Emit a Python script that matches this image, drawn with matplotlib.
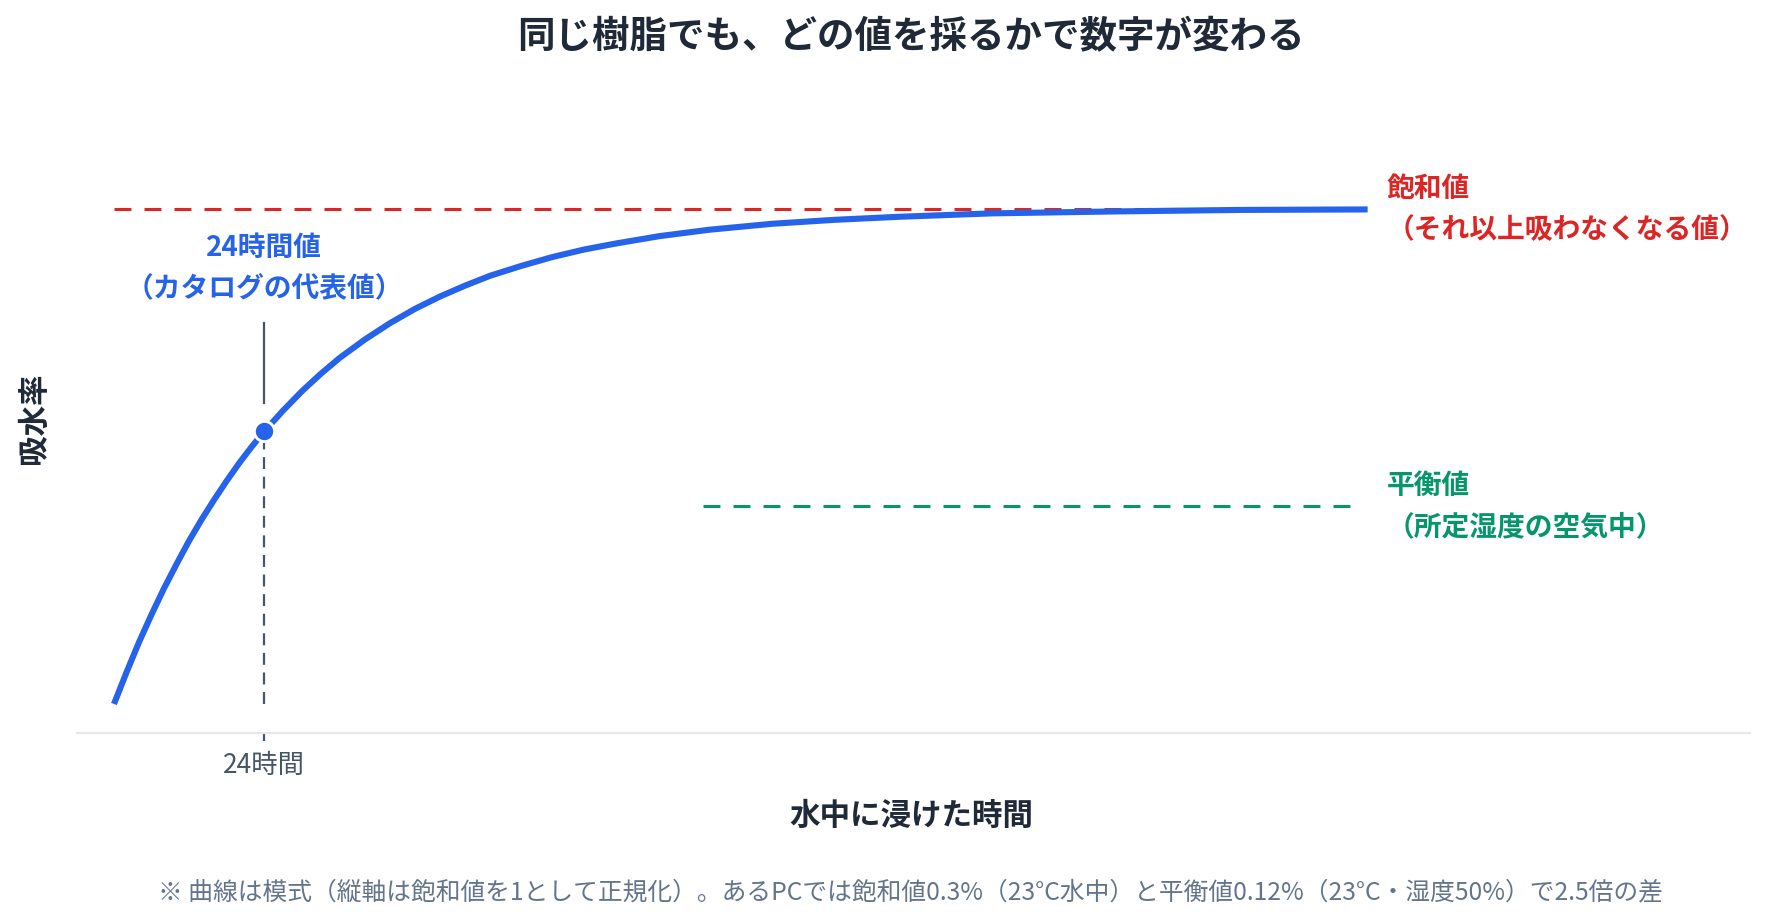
import matplotlib
matplotlib.use("Agg")
import matplotlib.pyplot as plt

# =========================
# 1. Data (normalised uptake, saturation = 1)
# =========================

hours = [0, 2, 4, 6, 8, 10, 12, 14, 16, 18, 20, 22, 24, 27, 30, 33, 36, 40, 44, 48,
         52, 56, 60, 65, 70, 75, 80, 87, 95, 105, 115, 125, 140, 160, 180, 200]
uptake = [0.000, 0.064, 0.125, 0.181, 0.234, 0.283, 0.330, 0.373, 0.413, 0.451,
          0.487, 0.520, 0.551, 0.593, 0.632, 0.667, 0.699, 0.736, 0.769, 0.798,
          0.823, 0.845, 0.865, 0.885, 0.903, 0.918, 0.930, 0.945, 0.958, 0.970,
          0.978, 0.984, 0.991, 0.995, 0.998, 0.999]

saturation_level = 1.0
saturation_span = [0, 200]
equilibrium_level = 0.4          # 0.12% / 0.3%
equilibrium_span = [94, 199]

point_hour = 24
point_value = 0.551

tick_positions = [24]
tick_labels = ["24時間"]

title = "同じ樹脂でも、どの値を採るかで数字が変わる"
x_label = "水中に浸けた時間"
y_label = "吸水率"
point_label = ["24時間値", "（カタログの代表値）"]
saturation_label = ["飽和値", "（それ以上吸わなくなる値）"]
equilibrium_label = ["平衡値", "（所定湿度の空気中）"]
footnote = ("※ 曲線は模式（縦軸は飽和値を1として正規化）。あるPCでは飽和値0.3%（23°C水中）"
            "と平衡値0.12%（23°C・湿度50%）で2.5倍の差")

BLUE = "#2563eb"
RED = "#dc2626"
GREEN = "#059669"
DARK = "#1f2937"
SLATE = "#475569"
GRAY = "#64748b"

plt.rcParams["font.family"] = ["Noto Sans CJK JP", "DejaVu Sans"]


# =========================
# 2. Figure and axes
# =========================

fig = plt.figure(figsize=(17.67, 9.2), dpi=100)
ax = fig.add_axes([77 / 1767, 0.2022, (1750 - 77) / 1767, 0.688])
ax.set_xlim(-5.9, 261)
ax.set_ylim(-0.0586, 1.22)

for side in ["top", "right", "left"]:
    ax.spines[side].set_visible(False)
ax.spines["bottom"].set_color("#e5e7eb")
ax.spines["bottom"].set_linewidth(1.6)

ax.set_yticks([])
ax.set_xticks(tick_positions)
ax.set_xticklabels(tick_labels, fontsize=19, color=SLATE)
ax.tick_params(axis="x", length=6, width=1.6, color=SLATE, pad=7)


# =========================
# 3. Reference lines
# =========================

ax.plot(saturation_span, [saturation_level] * 2, color=RED, lw=2.2,
        linestyle=(0, (12.2 / 2.2, 9.4 / 2.2)), zorder=2)
ax.plot(equilibrium_span, [equilibrium_level] * 2, color=GREEN, lw=2.2,
        linestyle=(0, (12.2 / 2.2, 9.4 / 2.2)), zorder=2)

ax.plot([point_hour, point_hour], [0, point_value], color=SLATE, lw=1.6,
        linestyle=(0, (8.6 / 1.6, 5.5 / 1.6)), zorder=2)
ax.plot([point_hour, point_hour], [0.608, 0.770], color=SLATE, lw=1.6, zorder=2)


# =========================
# 4. Curve and point
# =========================

ax.plot(hours, uptake, color=BLUE, lw=4.4, solid_capstyle="butt",
        solid_joinstyle="round", zorder=3)
ax.plot([point_hour], [point_value], "o", color=BLUE, markersize=14.5,
        markeredgecolor="white", markeredgewidth=2, zorder=4)


# =========================
# 5. Labels
# =========================

ax.text(point_hour, 0.923, point_label[0], color=BLUE, fontsize=20,
        fontweight="bold", ha="center", va="center")
ax.text(point_hour, 0.842, point_label[1], color=BLUE, fontsize=20,
        fontweight="bold", ha="center", va="center")

ax.text(203, 1.042, saturation_label[0], color=RED, fontsize=20,
        fontweight="bold", ha="left", va="center", clip_on=False)
ax.text(203, 0.960, saturation_label[1], color=RED, fontsize=20,
        fontweight="bold", ha="left", va="center", clip_on=False)

ax.text(203, 0.442, equilibrium_label[0], color=GREEN, fontsize=20,
        fontweight="bold", ha="left", va="center", clip_on=False)
ax.text(203, 0.360, equilibrium_label[1], color=GREEN, fontsize=20,
        fontweight="bold", ha="left", va="center", clip_on=False)

fig.text(0.5155, 0.960, title, fontsize=27, fontweight="bold", color=DARK,
         ha="center", va="center")
fig.text(0.5155, 0.113, x_label, fontsize=22, fontweight="bold", color=DARK,
         ha="center", va="center")
fig.text(0.019, 0.545, y_label, fontsize=22, fontweight="bold", color=DARK,
         ha="center", va="center", rotation=90)
fig.text(0.5155, 0.0296, footnote, fontsize=17.8, color=GRAY,
         ha="center", va="center")

fig.savefig("out.png", dpi=100, facecolor="white")
plt.close(fig)
